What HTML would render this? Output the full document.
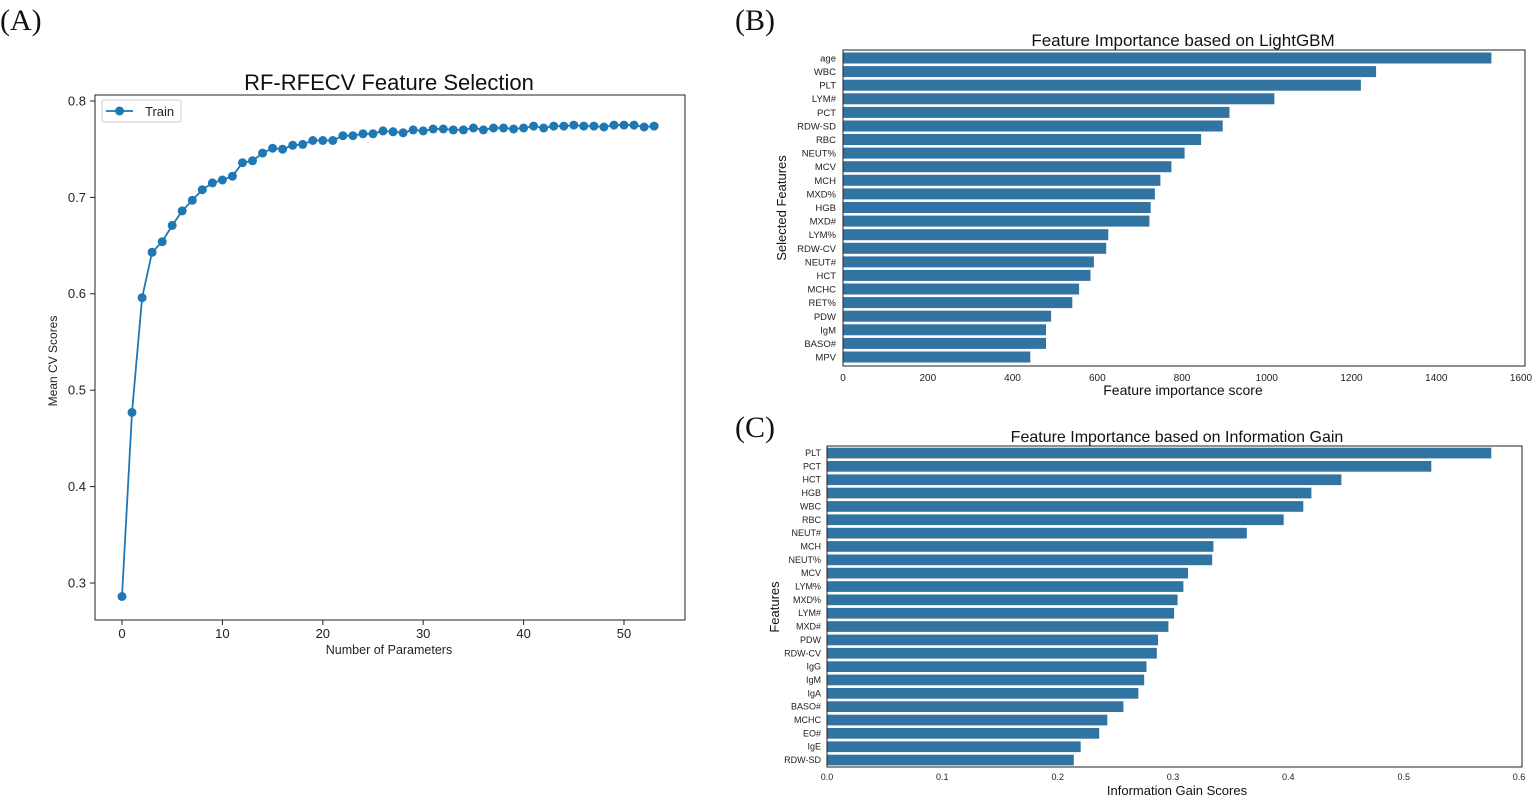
<!DOCTYPE html>
<html><head><meta charset="utf-8"><style>
html,body{margin:0;padding:0;background:#fff}
svg{display:block;font-family:"Liberation Sans",sans-serif}
.tb{font-size:9.5px;fill:#222;text-anchor:end}
.tc{font-size:9px;fill:#222;text-anchor:end}
</style></head><body>
<svg width="1535" height="798" viewBox="0 0 1535 798" xmlns="http://www.w3.org/2000/svg">
<rect width="1535" height="798" fill="#fff"/>
<g font-family="Liberation Serif,serif" font-size="30" fill="#111">
<text x="0" y="30">(A)</text><text x="735" y="30">(B)</text><text x="735" y="437">(C)</text></g>

<!-- Panel A -->
<text x="389" y="90" font-size="22" text-anchor="middle" fill="#111">RF-RFECV Feature Selection</text>
<rect x="95" y="95" width="590" height="525" fill="none" stroke="#222" stroke-width="1"/>
<g stroke="#222"><line x1="90" y1="101" x2="95" y2="101"/><line x1="90" y1="197.4" x2="95" y2="197.4"/><line x1="90" y1="293.8" x2="95" y2="293.8"/><line x1="90" y1="390.2" x2="95" y2="390.2"/><line x1="90" y1="486.6" x2="95" y2="486.6"/><line x1="90" y1="583" x2="95" y2="583"/>
<line x1="122" y1="620" x2="122" y2="625"/><line x1="222.4" y1="620" x2="222.4" y2="625"/><line x1="322.8" y1="620" x2="322.8" y2="625"/><line x1="423.2" y1="620" x2="423.2" y2="625"/><line x1="523.6" y1="620" x2="523.6" y2="625"/><line x1="624" y1="620" x2="624" y2="625"/></g>
<g font-size="13" fill="#222" text-anchor="end"><text x="86" y="105.5">0.8</text><text x="86" y="202">0.7</text><text x="86" y="298">0.6</text><text x="86" y="394.5">0.5</text><text x="86" y="491">0.4</text><text x="86" y="587.5">0.3</text></g>
<g font-size="13" fill="#222" text-anchor="middle"><text x="122" y="638">0</text><text x="222.4" y="638">10</text><text x="322.8" y="638">20</text><text x="423.2" y="638">30</text><text x="523.6" y="638">40</text><text x="624" y="638">50</text></g>
<text x="389" y="654" font-size="12.5" text-anchor="middle" fill="#222">Number of Parameters</text>
<text transform="translate(57,361) rotate(-90)" font-size="12" text-anchor="middle" fill="#222">Mean CV Scores</text>
<polyline fill="none" stroke="#1f77b4" stroke-width="1.8" points="122,596.5 132,412.4 142.1,297.7 152.1,252.3 162.2,241.7 172.2,225.4 182.2,210.9 192.3,200.3 202.3,189.7 212.4,182.9 222.4,180 232.4,176.2 242.5,162.7 252.5,160.8 262.6,153.1 272.6,148.2 282.6,149.2 292.7,145.3 302.7,144.4 312.8,140.5 322.8,140.5 332.8,140.5 342.9,135.7 352.9,135.7 363,133.8 373,133.8 383,130.9 393.1,131.8 403.1,132.8 413.2,129.9 423.2,130.9 433.2,129 443.3,129 453.3,129.9 463.4,129.9 473.4,128 483.4,129.9 493.5,128 503.5,128 513.6,129 523.6,128 533.6,126.1 543.7,128 553.7,126.1 563.8,126.1 573.8,125.1 583.8,126.1 593.9,126.1 603.9,127 614,125.1 624,125.1 634,125.1 644.1,127 654.1,126.1"/>
<g fill="#1f77b4"><circle cx="122" cy="596.5" r="4.5"/><circle cx="132" cy="412.4" r="4.5"/><circle cx="142.1" cy="297.7" r="4.5"/><circle cx="152.1" cy="252.3" r="4.5"/><circle cx="162.2" cy="241.7" r="4.5"/><circle cx="172.2" cy="225.4" r="4.5"/><circle cx="182.2" cy="210.9" r="4.5"/><circle cx="192.3" cy="200.3" r="4.5"/><circle cx="202.3" cy="189.7" r="4.5"/><circle cx="212.4" cy="182.9" r="4.5"/><circle cx="222.4" cy="180" r="4.5"/><circle cx="232.4" cy="176.2" r="4.5"/><circle cx="242.5" cy="162.7" r="4.5"/><circle cx="252.5" cy="160.8" r="4.5"/><circle cx="262.6" cy="153.1" r="4.5"/><circle cx="272.6" cy="148.2" r="4.5"/><circle cx="282.6" cy="149.2" r="4.5"/><circle cx="292.7" cy="145.3" r="4.5"/><circle cx="302.7" cy="144.4" r="4.5"/><circle cx="312.8" cy="140.5" r="4.5"/><circle cx="322.8" cy="140.5" r="4.5"/><circle cx="332.8" cy="140.5" r="4.5"/><circle cx="342.9" cy="135.7" r="4.5"/><circle cx="352.9" cy="135.7" r="4.5"/><circle cx="363" cy="133.8" r="4.5"/><circle cx="373" cy="133.8" r="4.5"/><circle cx="383" cy="130.9" r="4.5"/><circle cx="393.1" cy="131.8" r="4.5"/><circle cx="403.1" cy="132.8" r="4.5"/><circle cx="413.2" cy="129.9" r="4.5"/><circle cx="423.2" cy="130.9" r="4.5"/><circle cx="433.2" cy="129" r="4.5"/><circle cx="443.3" cy="129" r="4.5"/><circle cx="453.3" cy="129.9" r="4.5"/><circle cx="463.4" cy="129.9" r="4.5"/><circle cx="473.4" cy="128" r="4.5"/><circle cx="483.4" cy="129.9" r="4.5"/><circle cx="493.5" cy="128" r="4.5"/><circle cx="503.5" cy="128" r="4.5"/><circle cx="513.6" cy="129" r="4.5"/><circle cx="523.6" cy="128" r="4.5"/><circle cx="533.6" cy="126.1" r="4.5"/><circle cx="543.7" cy="128" r="4.5"/><circle cx="553.7" cy="126.1" r="4.5"/><circle cx="563.8" cy="126.1" r="4.5"/><circle cx="573.8" cy="125.1" r="4.5"/><circle cx="583.8" cy="126.1" r="4.5"/><circle cx="593.9" cy="126.1" r="4.5"/><circle cx="603.9" cy="127" r="4.5"/><circle cx="614" cy="125.1" r="4.5"/><circle cx="624" cy="125.1" r="4.5"/><circle cx="634" cy="125.1" r="4.5"/><circle cx="644.1" cy="127" r="4.5"/><circle cx="654.1" cy="126.1" r="4.5"/></g>
<rect x="102" y="100" width="79" height="22" rx="2" fill="#fff" stroke="#ccc"/>
<line x1="106" y1="111" x2="133" y2="111" stroke="#1f77b4" stroke-width="1.8"/><circle cx="119.5" cy="111" r="4.5" fill="#1f77b4"/>
<text x="145" y="116" font-size="13" fill="#222">Train</text>

<!-- Panel B -->
<text x="1183" y="46" font-size="17" text-anchor="middle" fill="#111">Feature Importance based on LightGBM</text>
<g fill="#3274a1">
<rect x="843" y="52.5" width="648.4" height="11"/><rect x="843" y="66.1" width="533.1" height="11"/><rect x="843" y="79.7" width="517.9" height="11"/><rect x="843" y="93.3" width="431.4" height="11"/><rect x="843" y="106.9" width="386.5" height="11"/><rect x="843" y="120.5" width="379.7" height="11"/><rect x="843" y="134" width="358.1" height="11"/><rect x="843" y="147.6" width="341.6" height="11"/><rect x="843" y="161.2" width="328.4" height="11"/><rect x="843" y="174.8" width="317.4" height="11"/><rect x="843" y="188.4" width="311.9" height="11"/><rect x="843" y="202" width="307.7" height="11"/><rect x="843" y="215.6" width="306.4" height="11"/><rect x="843" y="229.2" width="265.3" height="11"/><rect x="843" y="242.8" width="263.2" height="11"/><rect x="843" y="256.4" width="250.9" height="11"/><rect x="843" y="269.9" width="247.5" height="11"/><rect x="843" y="283.5" width="236.1" height="11"/><rect x="843" y="297.1" width="229.3" height="11"/><rect x="843" y="310.7" width="208.1" height="11"/><rect x="843" y="324.3" width="203" height="11"/><rect x="843" y="337.9" width="203" height="11"/><rect x="843" y="351.5" width="187.3" height="11"/></g>
<rect x="843" y="50" width="682" height="316" fill="none" stroke="#222"/>
<g class="tb">
<text x="836" y="61.5">age</text><text x="836" y="75">WBC</text><text x="836" y="88.6">PLT</text><text x="836" y="102.2">LYM#</text><text x="836" y="115.8">PCT</text><text x="836" y="129.4">RDW-SD</text><text x="836" y="143">RBC</text><text x="836" y="156.6">NEUT%</text><text x="836" y="170.2">MCV</text><text x="836" y="183.8">MCH</text><text x="836" y="197.4">MXD%</text><text x="836" y="211">HGB</text><text x="836" y="224.6">MXD#</text><text x="836" y="238.2">LYM%</text><text x="836" y="251.8">RDW-CV</text><text x="836" y="265.4">NEUT#</text><text x="836" y="279">HCT</text><text x="836" y="292.6">MCHC</text><text x="836" y="306.2">RET%</text><text x="836" y="319.8">PDW</text><text x="836" y="333.4">IgM</text><text x="836" y="347">BASO#</text><text x="836" y="360.6">MPV</text></g>
<g font-size="10" fill="#222" text-anchor="middle"><text x="843" y="381">0</text><text x="927.8" y="381">200</text><text x="1012.5" y="381">400</text><text x="1097.3" y="381">600</text><text x="1182" y="381">800</text><text x="1266.8" y="381">1000</text><text x="1351.5" y="381">1200</text><text x="1436.3" y="381">1400</text><text x="1521" y="381">1600</text></g>
<text x="1183" y="395" font-size="14" text-anchor="middle" fill="#111">Feature importance score</text>
<text transform="translate(786,208) rotate(-90)" font-size="13" text-anchor="middle" fill="#111">Selected Features</text>

<!-- Panel C -->
<text x="1177" y="442" font-size="16" text-anchor="middle" fill="#111">Feature Importance based on Information Gain</text>
<g fill="#3274a1">
<rect x="827" y="447.7" width="664.3" height="10.7"/><rect x="827" y="461" width="604.3" height="10.7"/><rect x="827" y="474.4" width="514.4" height="10.7"/><rect x="827" y="487.7" width="484.4" height="10.7"/><rect x="827" y="501.1" width="476.3" height="10.7"/><rect x="827" y="514.4" width="456.7" height="10.7"/><rect x="827" y="527.8" width="419.8" height="10.7"/><rect x="827" y="541.1" width="386.4" height="10.7"/><rect x="827" y="554.5" width="385.2" height="10.7"/><rect x="827" y="567.8" width="361" height="10.7"/><rect x="827" y="581.2" width="356.4" height="10.7"/><rect x="827" y="594.5" width="350.6" height="10.7"/><rect x="827" y="607.9" width="347.1" height="10.7"/><rect x="827" y="621.2" width="341.4" height="10.7"/><rect x="827" y="634.6" width="331" height="10.7"/><rect x="827" y="647.9" width="329.8" height="10.7"/><rect x="827" y="661.3" width="319.5" height="10.7"/><rect x="827" y="674.6" width="317.2" height="10.7"/><rect x="827" y="688" width="311.4" height="10.7"/><rect x="827" y="701.3" width="296.4" height="10.7"/><rect x="827" y="714.7" width="280.3" height="10.7"/><rect x="827" y="728" width="272.2" height="10.7"/><rect x="827" y="741.4" width="253.7" height="10.7"/><rect x="827" y="754.7" width="246.8" height="10.7"/></g>
<rect x="827" y="446" width="695" height="321" fill="none" stroke="#222"/>
<g class="tc">
<text x="821" y="456">PLT</text><text x="821" y="469.4">PCT</text><text x="821" y="482.7">HCT</text><text x="821" y="496.1">HGB</text><text x="821" y="509.4">WBC</text><text x="821" y="522.8">RBC</text><text x="821" y="536.1">NEUT#</text><text x="821" y="549.5">MCH</text><text x="821" y="562.8">NEUT%</text><text x="821" y="576.2">MCV</text><text x="821" y="589.5">LYM%</text><text x="821" y="602.9">MXD%</text><text x="821" y="616.2">LYM#</text><text x="821" y="629.6">MXD#</text><text x="821" y="642.9">PDW</text><text x="821" y="656.3">RDW-CV</text><text x="821" y="669.6">IgG</text><text x="821" y="683">IgM</text><text x="821" y="696.3">IgA</text><text x="821" y="709.7">BASO#</text><text x="821" y="723">MCHC</text><text x="821" y="736.4">EO#</text><text x="821" y="749.7">IgE</text><text x="821" y="763.1">RDW-SD</text></g>
<g font-size="9" fill="#222" text-anchor="middle"><text x="827" y="780">0.0</text><text x="942.3" y="780">0.1</text><text x="1057.7" y="780">0.2</text><text x="1173" y="780">0.3</text><text x="1288.3" y="780">0.4</text><text x="1403.7" y="780">0.5</text><text x="1519" y="780">0.6</text></g>
<text x="1177" y="795" font-size="13" text-anchor="middle" fill="#111">Information Gain Scores</text>
<text transform="translate(779,607) rotate(-90)" font-size="13" text-anchor="middle" fill="#111">Features</text>
</svg>
</body></html>
